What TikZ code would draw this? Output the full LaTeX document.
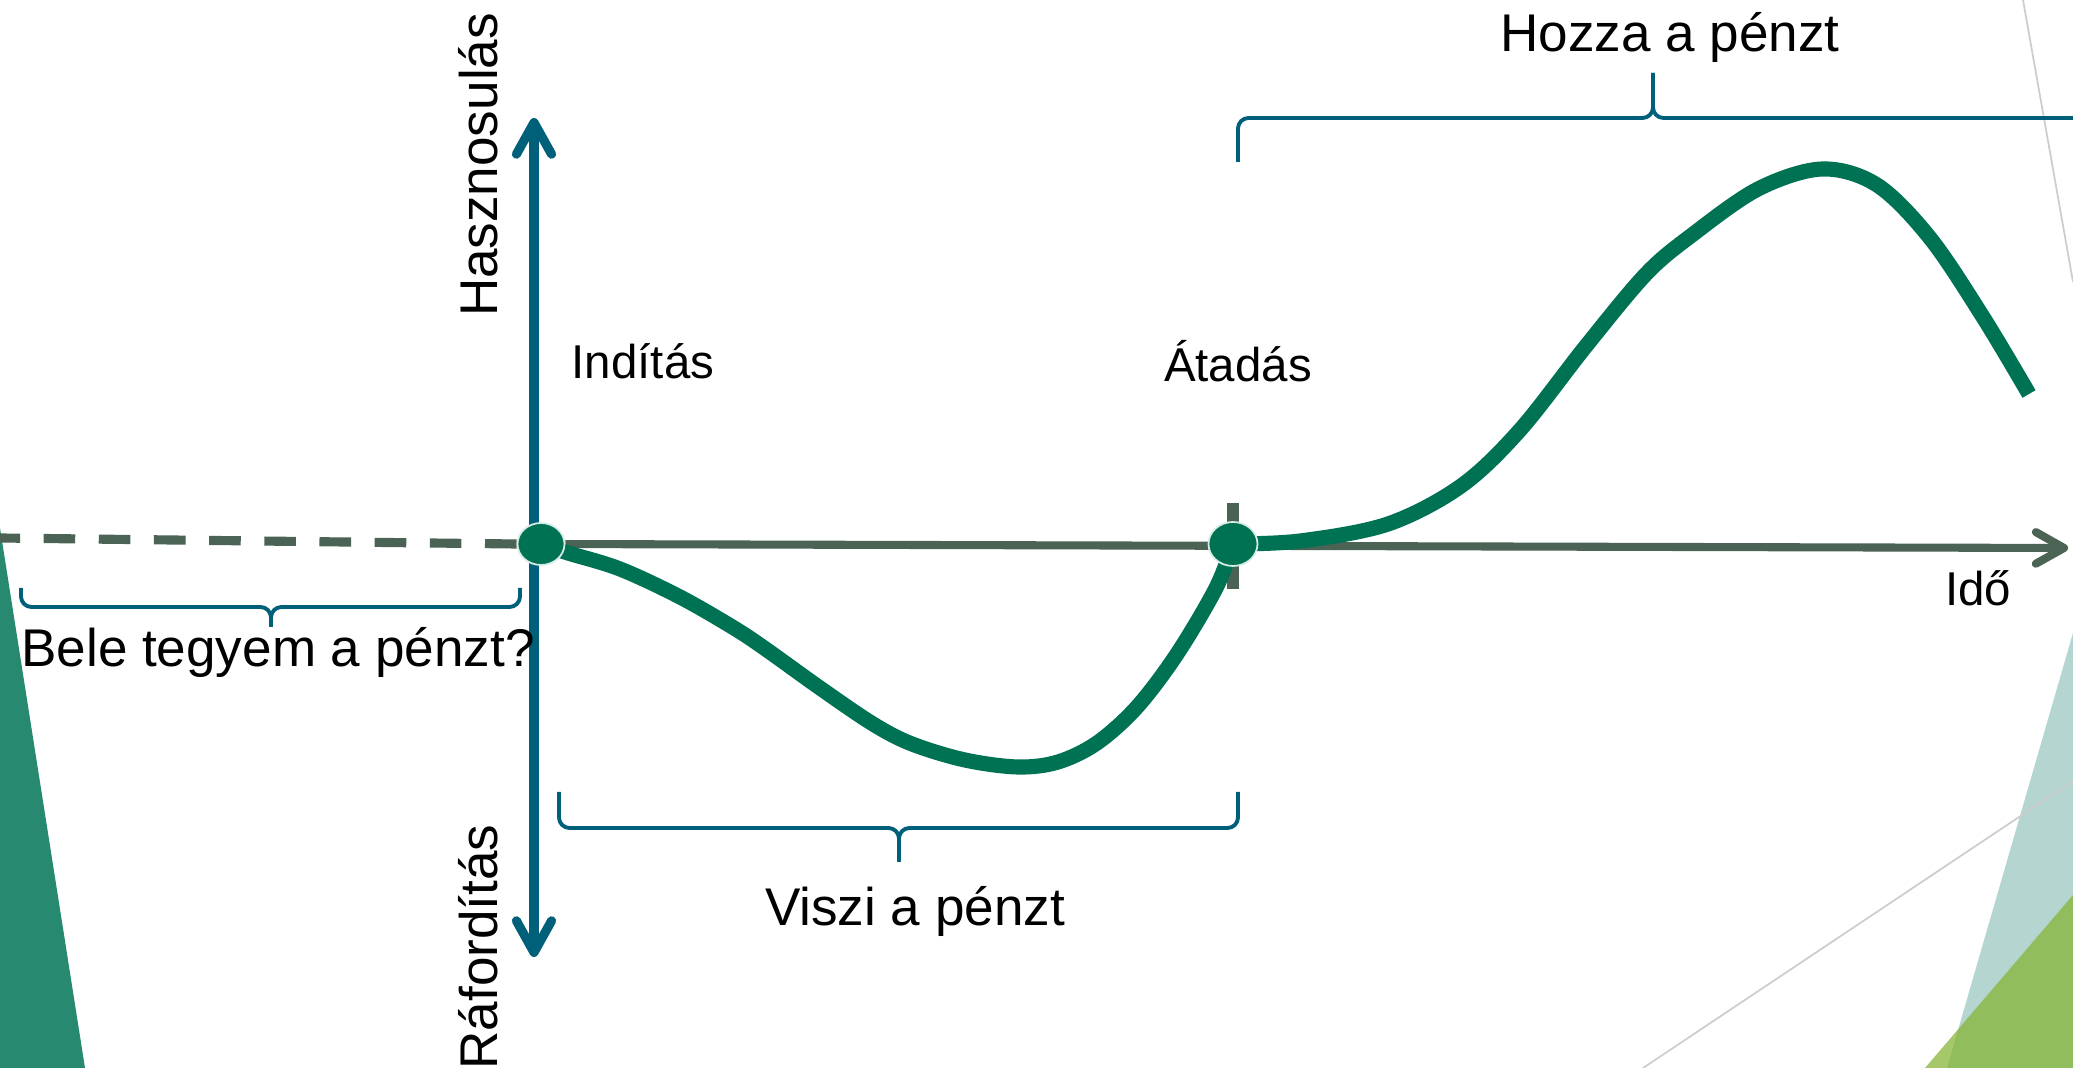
\documentclass[tikz,border=0pt]{standalone}
\usepackage{fontspec}
\setmainfont{Liberation Sans}
\usetikzlibrary{arrows.meta,shapes.geometric,backgrounds}

\definecolor{axisteal}{RGB}{0,96,122}
\definecolor{axisgray}{RGB}{74,99,84}
\definecolor{flowgreen}{RGB}{0,114,84}
\definecolor{dotrim}{RGB}{214,236,228}
\definecolor{decogreen}{RGB}{39,138,112}
\definecolor{decoteal}{RGB}{180,213,208}
\definecolor{decolime}{RGB}{135,181,54}
\definecolor{decoline}{RGB}{205,205,205}

\begin{document}
\begin{tikzpicture}[x=0.1mm, y=-0.1mm,
  lblbig/.style={font=\fontsize{15.1}{18}\selectfont, inner sep=0pt, anchor=base},
  lblsmall/.style={font=\fontsize{13.5}{16}\selectfont, inner sep=0pt, anchor=base},
  milestone/.style={ellipse, fill=flowgreen, draw=dotrim, line width=0.5pt, inner sep=0pt},
  vaxis/.style={draw=axisteal, line width=2.6pt,
    {Straight Barb[length=9pt,width=10pt,round]}-{Straight Barb[length=9pt,width=10pt,round]}},
  haxis/.style={draw=axisgray, line width=2.3pt, -{Straight Barb[length=8pt,width=9pt,round]}},
  multline/.style={draw=axisgray, line width=2.6pt, dash pattern=on 9pt off 6.7pt},
  bracket/.style={draw=axisteal, line width=1.1pt, rounded corners=3pt},
  flow/.style={draw=flowgreen, line width=4.3pt}]

\useasboundingbox (0,0) rectangle (2073,1068);

% --- merfoldkovek, tengelyvegek ---
\node[milestone, minimum width=4.7mm, minimum height=4.2mm] (indit) at (541,544) {};
\node[milestone, minimum width=4.9mm, minimum height=4.4mm] (atad) at (1233,544) {};
\coordinate (hasz) at (534,118);
\coordinate (rafo) at (534,957);
\coordinate (ido) at (2068,548);
\coordinate (multend) at (0,538);

% --- feliratok ---
\node[lblbig] (hozza) at (1670,52) {Hozza a pénzt};
\node[lblbig] (bele) at (278,667) {Bele tegyem a pénzt?};
\node[lblbig] (viszi) at (915,926) {Viszi a pénzt};
\node[lblsmall] (indtxt) at (643,379) {Indítás};
\node[lblsmall] (atadtxt) at (1238,382) {Átadás};
\node[lblsmall] (idotxt) at (1978,606) {Idő};
\node[lblbig, rotate=90] (haszntxt) at (497,165) {Hasznosulás};
\node[lblbig, rotate=90] (rafotxt) at (497,947) {Ráfordítás};

% --- kapcsok ---
\foreach \xa/\xm/\xb/\ye/\yl/\yt in {21/271/520/588/607/627, 559/899/1238/792/828/862}{
  \draw[bracket] (\xa,\ye) -- (\xa,\yl) -- (\xm,\yl) -- (\xm,\yt);
  \draw[bracket] (\xb,\ye) -- (\xb,\yl) -- (\xm,\yl) -- (\xm,\yt);
}
\draw[bracket] (1238,162) -- (1238,118) -- (1653,118) -- (1653,73);
\draw[bracket] (2073,118) -- (1653,118) -- (1653,73);

\begin{scope}[on background layer]
% --- dekoracio ---
\fill[decogreen] (0,528) -- (85,1068) -- (0,1068) -- cycle;
\fill[decoteal] (2073,633) -- (1947,1068) -- (2073,1068) -- cycle;
\fill[decolime, fill opacity=0.74] (2073,895) -- (1925,1068) -- (2073,1068) -- cycle;
\draw[decoline, line width=0.5pt] (2023,0) -- (2073,282);
\draw[decoline, line width=0.5pt] (1643,1068) -- (2073,781);

% --- tengelyek ---
\draw[multline] (indit.west) -- (multend);
\draw[haxis] (indit) -- (ido);
\draw[axisgray, line width=3.4pt] (atad.center) ++(0,-41) -- ++(0,86);
\draw[vaxis] (rafo) -- (hasz);

% --- gorbe ---
\draw[flow] plot[smooth, tension=0.55] coordinates {(indit.center) (568,553) (620,569)
  (680,597) (734,628) (767,650) (820,688) (873,724) (912,744) (965,760) (1018,767)
  (1058,762) (1097,743) (1137,707) (1177,654) (1216,588) (atad.center)};
\draw[flow] plot[smooth, tension=0.55] coordinates {(atad.center) (1300,541) (1388,524)
  (1461,486) (1520,430) (1586,346) (1646,274) (1692,235) (1758,189) (1822,169)
  (1877,185) (1930,238) (1983,317) (2029,394)};
\end{scope}
\end{tikzpicture}
\end{document}
